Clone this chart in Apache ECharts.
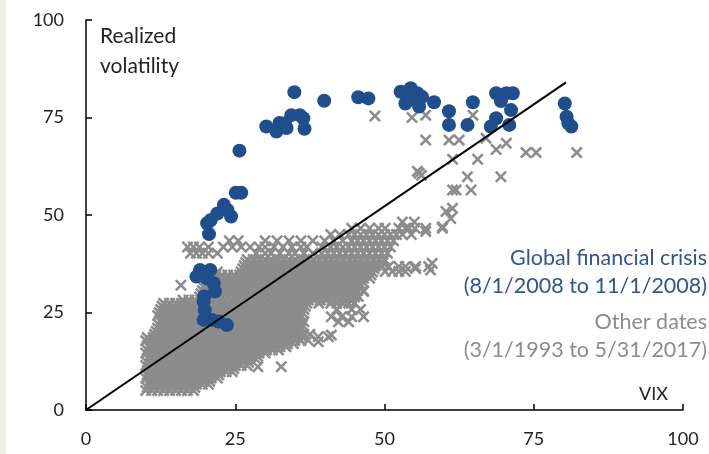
<!DOCTYPE html>
<html>
<head>
<meta charset="utf-8">
<script src="https://cdn.jsdelivr.net/npm/echarts@6/dist/echarts.min.js"></script>
<style>
html,body{margin:0;padding:0;background:#fff;}
#chart{width:709px;height:454px;}
</style>
</head>
<body>
<div id="chart"></div>
<script>
// Tick values
const xTicks = [0, 25, 50, 75, 100];
const yTicks = [0, 25, 50, 75, 100];

// Other dates (3/1/1993 to 5/31/2017): dense cloud read row by row (realized vol level of each row, VIX readings in it)
const otherRowVol = [5.0, 5.8, 6.6, 7.4, 8.2, 9.0, 9.8, 10.6, 11.4, 12.2, 13.0, 13.8, 14.6, 15.4, 16.2, 17.0, 17.8, 18.6, 19.4, 20.2,
  21.0, 21.8, 22.6, 23.4, 24.2, 25.0, 25.8, 26.6, 27.4, 28.2, 29.0, 29.8, 30.6, 31.4, 32.2, 33.0, 33.8, 34.6, 35.4, 36.2, 37.0, 37.8, 38.6,
  40.2, 41.8, 43.4, 45.0, 46.6, 48.2];
const otherRowVix = [
  [10,11,12,13,14,15,16,17,18],
  [10.25,11.25,12.25,13.25,14.25,15.25,16.25,17.25,18.25],
  [10.5,11.5,12.5,13.5,14.5,15.5,16.5,17.5,18.5,19.5,20.5],
  [10.75,11.75,12.75,13.75,14.75,15.75,16.75,17.75,18.75,19.75,20.75],
  [10,11,12,13,14,15,16,17,18,19,20,21,22],
  [10.25,11.25,12.25,13.25,14.25,15.25,16.25,17.25,18.25,19.25,20.25,21.25,22.25],
  [10.5,11.5,12.5,13.5,14.5,15.5,16.5,17.5,18.5,19.5,20.5,21.5,22.5,23.5,24.5],
  [10.75,11.75,12.75,13.75,14.75,15.75,16.75,17.75,18.75,19.75,20.75,21.75,22.75,23.75,24.75],
  [10,11,12,13,14,15,16,17,18,19,20,21,22,23,24,25,26,27],
  [10.25,11.25,12.25,13.25,14.25,15.25,16.25,17.25,18.25,19.25,20.25,21.25,22.25,23.25,24.25,25.25,26.25,27.25],
  [10.5,11.5,12.5,13.5,14.5,15.5,16.5,17.5,18.5,19.5,20.5,21.5,22.5,23.5,24.5,25.5,26.5,27.5,28.5],
  [10.75,11.75,12.75,13.75,14.75,15.75,16.75,17.75,18.75,19.75,20.75,21.75,22.75,23.75,24.75,25.75,26.75,27.75,28.75],
  [10,11,12,13,14,15,16,17,18,19,20,21,22,23,24,25,26,27,28,29,30],
  [10.25,11.25,12.25,13.25,14.25,15.25,16.25,17.25,18.25,19.25,20.25,21.25,22.25,23.25,24.25,25.25,26.25,27.25,28.25,29.25,30.25,31.25,32.25],
  [10.5,11.5,12.5,13.5,14.5,15.5,16.5,17.5,18.5,19.5,20.5,21.5,22.5,23.5,24.5,25.5,26.5,27.5,28.5,29.5,30.5,31.5,32.5,33.5],
  [10.75,11.75,12.75,13.75,14.75,15.75,16.75,17.75,18.75,19.75,20.75,21.75,22.75,23.75,24.75,25.75,26.75,27.75,28.75,29.75,30.75,31.75,32.75,33.75,34.75],
  [10,11,12,13,14,15,16,17,18,19,20,21,22,23,24,25,26,27,28,29,30,31,32,33,34,35,36],
  [10.25,11.25,12.25,13.25,14.25,15.25,16.25,17.25,18.25,19.25,20.25,21.25,22.25,23.25,24.25,25.25,26.25,27.25,28.25,29.25,30.25,31.25,32.25,33.25,34.25,35.25,36.25],
  [11.5,12.5,13.5,14.5,15.5,16.5,17.5,18.5,19.5,20.5,21.5,22.5,23.5,24.5,25.5,26.5,27.5,28.5,29.5,30.5,31.5,32.5,33.5,34.5,35.5,36.5,37.5],
  [11.75,12.75,13.75,14.75,15.75,16.75,17.75,18.75,19.75,20.75,21.75,22.75,23.75,24.75,25.75,26.75,27.75,28.75,29.75,30.75,31.75,32.75,33.75,34.75,35.75],
  [12,13,14,15,16,17,18,19,20,21,22,23,24,25,26,27,28,29,30,31,32,33,34,35,36],
  [12.25,13.25,14.25,15.25,16.25,17.25,18.25,19.25,20.25,21.25,22.25,23.25,24.25,25.25,26.25,27.25,28.25,29.25,30.25,31.25,32.25,33.25,34.25,35.25,36.25],
  [12.5,13.5,14.5,15.5,16.5,17.5,18.5,19.5,20.5,21.5,22.5,23.5,24.5,25.5,26.5,27.5,28.5,29.5,30.5,31.5,32.5,33.5,34.5,35.5,36.5],
  [12.75,13.75,14.75,15.75,16.75,17.75,18.75,19.75,20.75,21.75,22.75,23.75,24.75,25.75,26.75,27.75,28.75,29.75,30.75,31.75,32.75,33.75,34.75,35.75],
  [12,13,14,15,16,17,18,19,20,21,22,23,24,25,26,27,28,29,30,31,32,33,34,35,36],
  [12.25,13.25,14.25,15.25,16.25,17.25,18.25,19.25,20.25,21.25,22.25,23.25,24.25,25.25,26.25,27.25,28.25,29.25,30.25,31.25,32.25,33.25,34.25,35.25,36.25],
  [12.5,13.5,14.5,15.5,16.5,17.5,18.5,19.5,20.5,21.5,22.5,23.5,24.5,25.5,26.5,27.5,28.5,29.5,30.5,31.5,32.5,33.5,34.5,35.5,36.5],
  [12.75,13.75,14.75,15.75,16.75,17.75,18.75,19.75,20.75,21.75,22.75,23.75,24.75,25.75,26.75,27.75,28.75,29.75,30.75,31.75,32.75,33.75,34.75,35.75,36.75],
  [13,14,15,16,17,18,19,20,21,22,23,24,25,26,27,28,29,30,31,32,33,34,35,36,37,39,41,42,43,44,45],
  [16.25,17.25,18.25,19.25,20.25,21.25,22.25,23.25,24.25,25.25,26.25,27.25,28.25,29.25,30.25,31.25,32.25,33.25,34.25,35.25,36.25,37.25,38.25,39.25,40.25,41.25,42.25,43.25,44.25],
  [19,20,21,22,23,24,25,26,27,28,29,30,31,32,33,34,35,36,37,38,39,40,41,42,43,44,45],
  [19.25,20.25,21.25,22.25,23.25,24.25,25.25,26.25,27.25,28.25,29.25,30.25,31.25,32.25,33.25,34.25,35.25,36.25,37.25,38.25,39.25,40.25,41.25,42.25,43.25,44.25,45.25],
  [19.5,20.5,21.5,22.5,23.5,24.5,25.5,26.5,27.5,28.5,29.5,30.5,31.5,32.5,33.5,34.5,35.5,36.5,37.5,38.5,39.5,40.5,41.5,42.5,43.5,44.5,45.5,46.5],
  [19.75,20.75,21.75,22.75,23.75,24.75,25.75,26.75,27.75,28.75,29.75,30.75,31.75,32.75,33.75,34.75,35.75,36.75,37.75,38.75,39.75,40.75,41.75,42.75,43.75,44.75,45.75],
  [20,21,22,23,24,25,26,27,28,29,30,31,32,33,34,35,36,37,38,39,40,41,42,43,44,45,46],
  [21.25,22.25,23.25,24.25,25.25,26.25,27.25,28.25,29.25,30.25,31.25,32.25,33.25,34.25,35.25,36.25,37.25,38.25,39.25,40.25,41.25,42.25,43.25,44.25,45.25,46.25],
  [21.5,22.5,23.5,24.5,25.5,26.5,27.5,28.5,29.5,30.5,31.5,32.5,33.5,34.5,35.5,36.5,37.5,38.5,39.5,40.5,41.5,42.5,43.5,44.5,45.5,46.5,47.5],
  [21.75,22.75,23.75,24.75,25.75,26.75,27.75,28.75,29.75,30.75,31.75,32.75,33.75,34.75,35.75,36.75,37.75,38.75,39.75,40.75,41.75,42.75,43.75,44.75,45.75,46.75,47.75],
  [21,22,26,27,28,29,30,31,32,33,34,35,36,37,38,39,40,41,42,43,44,45,46,47,48],
  [26.25,27.25,28.25,29.25,30.25,31.25,32.25,33.25,34.25,35.25,36.25,37.25,38.25,39.25,40.25,41.25,42.25,43.25,44.25,45.25,46.25,47.25,48.25],
  [26.5,27.5,28.5,29.5,30.5,31.5,32.5,33.5,34.5,35.5,36.5,37.5,38.5,39.5,40.5,41.5,42.5,43.5,44.5,45.5,46.5,47.5,48.5,49.5],
  [26.75,27.75,28.75,29.75,30.75,31.75,32.75,33.75,34.75,35.75,36.75,37.75,38.75,39.75,40.75,41.75,42.75,43.75,44.75,45.75,46.75,47.75,48.75,49.75],
  [27,28,29,30,31,32,33,34,35,36,37,38,39,40,41,42,43,44,45,46,47,48,49,50],
  [17.5,18.5,19.5,20.5,22,28.5,30,31,32.5,34,35,36.5,38,39.5,40.5,41.5,42.5,43.5,44.5,45.5,46.5,47.5,48.5,49.5,50.5],
  [17,18,19,20.5,23,24.5,26,27.5,29,30,31.5,33,34.5,36,37,39.5,41,42,43,44,45,46,47,48,49,50,51],
  [24,25.5,30,32,34,36,38,40,41.5,43,44.5,45.5,46.5,47.5,48.5,49.5,50.5,51.5],
  [41,42.5,44,45,46,47,48,49,50,51,52,53,54.5],
  [44.5,46,47.5,49,50.1,52.4,53.5,54.1,55.1,56.9],
  [53,55]
];
// Other dates: isolated crosses [VIX, realized vol]
const otherOutliers = [
  [28.8,11.1],[32.7,11.1],[37.2,17.9],[38.9,17.5],[38.9,18.8],[40.6,18.8],[41.1,19.2],
  [42.3,22.6],[44,22.6],[41.1,23.9],[42.8,23.9],[44.5,23.9],[46.5,23.9],[42,25.8],[44.5,25.8],[46,25.8],
  [45.6,29.1],[46.5,30.4],[15.9,32.0],
  [50.1,35.5],[51.3,35.5],[52.4,35.5],[53.5,35.5],[57.7,35.9],[55.2,36.3],
  [47.9,36.8],[49.6,36.8],[50.7,36.8],[52.4,36.8],[53.5,36.8],[55.2,36.8],[57.4,36.8],[58.0,37.6],
  [56.9,45.8],[59.7,46.6],[59.7,47.0],[61.1,49.1],[60.3,50.9],[61.4,51.7],
  [61.4,56.4],[62.0,56.4],[64.5,56.4],
  [55.8,60.7],[56.2,60.2],[55.5,61.2],[63.9,59.8],[69.5,59.8],
  [61.4,64.3],[65.6,64.3],[73.7,66.0],[75.4,66.0],[82.2,66.0],[68.7,66.8],
  [56.9,69.2],[60.8,69.2],[62.5,69.2],[67.0,69.7],[70.4,68.4],
  [48.4,75.4],[54.6,75.0],[56.9,75.6],[64.8,75.6]
];

// Global financial crisis (8/1/2008 to 11/1/2008): [VIX, realized vol]
const gfcPoints = [
  [23.6,21.8],[22.2,22.7],[21.1,23.1],[19.7,23.1],[19.9,25.6],[19.7,27.8],[19.8,29.1],[21.6,30.4],[21.4,32.5],
  [20.2,33.8],[18.5,34.2],[19.1,35.9],[20.8,35.9],
  [20.6,45.1],[20.3,47.9],[20.9,48.7],[22.0,50.4],[24.3,49.6],[23.7,51.3],[23.1,52.6],[25.1,55.7],[26.0,55.7],
  [25.7,66.5],
  [30.2,72.7],[31.9,71.4],[32.4,73.6],[33.3,73.5],[33.6,72.3],[34.4,75.6],[35.8,75.6],[36.4,74.8],[36.6,72.1],
  [34.9,81.5],[39.9,79.3],
  [45.6,80.2],[47.3,79.9],
  [52.7,81.6],[54.4,82.5],[55.5,81.2],[54.1,79.5],[53.5,78.6],[55.8,77.8],[56.3,80.3],[58.3,78.9],
  [60.8,76.6],[60.8,73.1],[63.9,73.1],[64.8,78.9],
  [67.8,72.7],[68.7,74.8],[68.7,81.2],[70.4,81.2],[71.5,81.2],[71.2,76.9],[70.9,73.1],[69.5,79.2],
  [80.2,78.6],[80.5,75.2],[81.3,72.7],[80.8,73.5]
];

// Reference line
const refLine = [[0,0],[80.4,84]];

// Build the cross data table
const otherPoints = [];
otherRowVol.forEach((v, i) => { otherRowVix[i].forEach(x => otherPoints.push([x, v])); });
otherOutliers.forEach(p => otherPoints.push(p));

const FONT = 'Lato';
const crossPath = 'path://M0,1.5L1.5,0L5,3.5L8.5,0L10,1.5L6.5,5L10,8.5L8.5,10L5,6.5L1.5,10L0,8.5L3.5,5Z';

const chart = echarts.init(document.getElementById('chart'));
chart.setOption({
  animation: false,
  backgroundColor: '#ffffff',
  grid: { left: 86, right: 26, top: 20, bottom: 44 },
  xAxis: {
    type: 'value', min: xTicks[0], max: xTicks[xTicks.length-1], interval: 25,
    axisLine: { lineStyle: { color: '#000', width: 1.5 } },
    axisTick: { inside: true, length: 6, lineStyle: { color: '#000', width: 1.5 } },
    axisLabel: { margin: 20, fontSize: 18, color: '#222', fontFamily: FONT },
    splitLine: { show: false }
  },
  yAxis: {
    type: 'value', min: yTicks[0], max: yTicks[yTicks.length-1], interval: 25,
    axisLine: { lineStyle: { color: '#000', width: 1.5 } },
    axisTick: { inside: true, length: 6, lineStyle: { color: '#000', width: 1.5 } },
    axisLabel: { margin: 22, fontSize: 18, color: '#222', fontFamily: FONT },
    splitLine: { show: false }
  },
  series: [
    { type: 'scatter', name: 'Other dates', data: otherPoints, symbol: crossPath, symbolSize: 12,
      itemStyle: { color: '#8c8c8c', opacity: 1 }, z: 2, silent: true, large: false },
    { type: 'scatter', name: 'Global financial crisis', data: gfcPoints, symbol: 'circle', symbolSize: 14,
      itemStyle: { color: '#1f4e8c', opacity: 1 }, z: 3, silent: true },
    { type: 'line', data: refLine, symbol: 'none', lineStyle: { color: '#000', width: 2 }, z: 4, silent: true }
  ],
  graphic: [
    { type: 'rect', left: 0, top: 0, shape: { width: 6, height: 454 }, style: { fill: '#eeede6' } },
    { type: 'text', x: 100, y: 36, style: { text: 'Realized', font: '21px Lato', fill: '#222', align: 'left', verticalAlign: 'middle' } },
    { type: 'text', x: 100, y: 66, style: { text: 'volatility', font: '21px Lato', fill: '#222', align: 'left', verticalAlign: 'middle' } },
    { type: 'text', x: 668, y: 394, style: { text: 'VIX', font: '18px Lato', fill: '#222', align: 'right', verticalAlign: 'middle' } },
    { type: 'text', x: 707, y: 258, style: { text: 'Global financial crisis', font: '21.5px Lato', fill: '#2f5597', align: 'right', verticalAlign: 'middle' } },
    { type: 'text', x: 707, y: 286, style: { text: '(8/1/2008 to 11/1/2008)', font: '21.5px Lato', fill: '#2f5597', align: 'right', verticalAlign: 'middle' } },
    { type: 'text', x: 707, y: 322, style: { text: 'Other dates', font: '21.5px Lato', fill: '#8c8c8c', align: 'right', verticalAlign: 'middle' } },
    { type: 'text', x: 707, y: 350, style: { text: '(3/1/1993 to 5/31/2017)', font: '21.5px Lato', fill: '#8c8c8c', align: 'right', verticalAlign: 'middle' } }
  ]
});
</script>
</body>
</html>
